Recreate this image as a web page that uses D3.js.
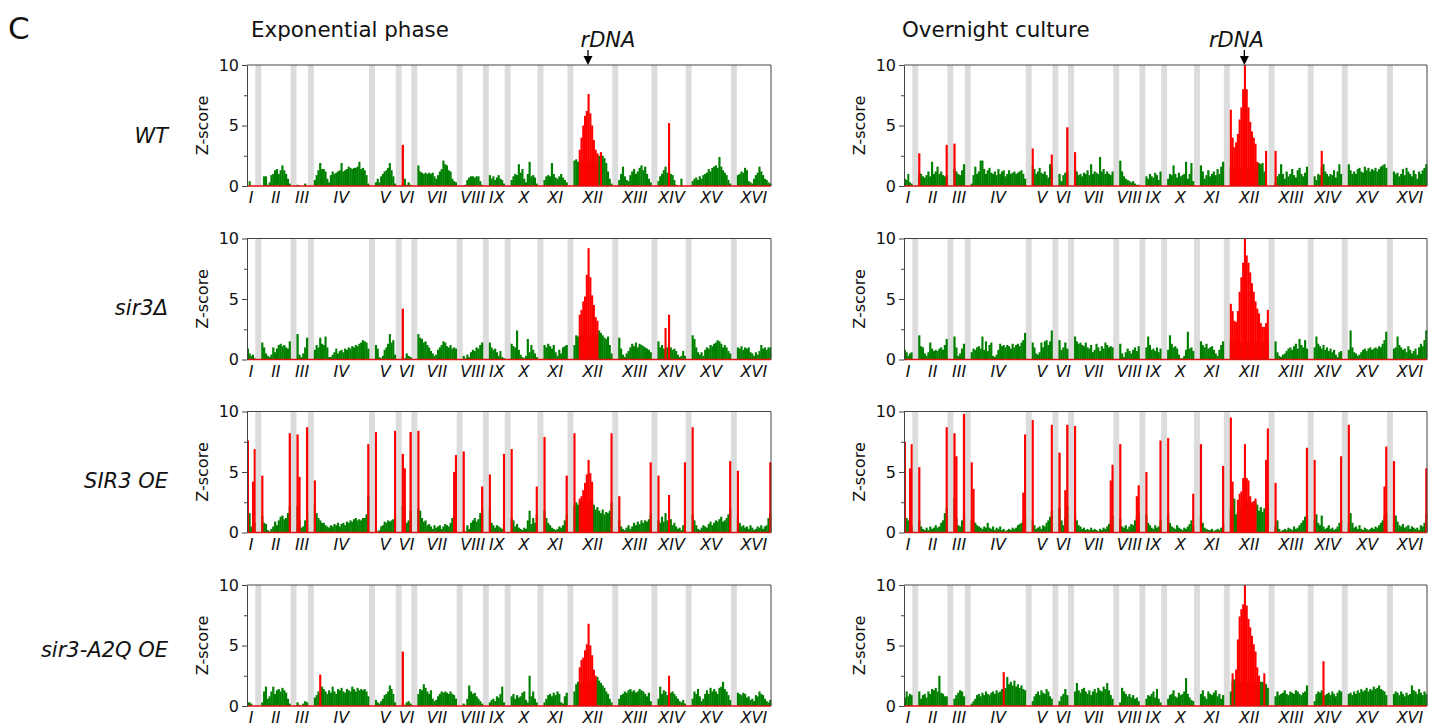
<!DOCTYPE html>
<html>
<head>
<meta charset="utf-8">
<script src="https://cdnjs.cloudflare.com/ajax/libs/d3/7.8.5/d3.min.js"></script>
<style>
  body { margin: 0; background: #fff; }
  text { font-family: "DejaVu Sans", sans-serif; fill: #111; }
</style>
</head>
<body>
<div id="svgContainer"></div>
<script>
// chromosomes (kb)
var chromNames = ["I","II","III","IV","V","VI","VII","VIII","IX","X","XI","XII","XIII","XIV","XV","XVI"];
var chromLengths = [230, 813, 317, 1532, 577, 270, 1091, 563, 440, 746, 667, 1078, 924, 784, 1091, 948];
var gapKb = 165;      // grey spacer between chromosomes
var rdnaKb = 405;     // rDNA position on chr XII

var yMajorTicks = [0, 5, 10];
var yMinorTicks = [2.5, 7.5];
var rowLabels = ["WT", "sir3\u0394", "SIR3 OE", "sir3-A2Q OE"];
var colTitles = ["Exponential phase", "Overnight culture"];

// z-score per bin, one array per chromosome (green = not enriched)
// red = enriched bins: [chromosome, first bin, values]
var wtExpGreen = [
  [0,0.4,0,0,0],
  [0,0.8,0.8,0.1,0.3,0.9,1.0,1.3,1.4,1.0,1.3,1.7,1.3,1.0,0.6,0.2],
  [0.1,0,0,0,0.2,0],
  [0.5,0.9,1.3,1.9,1.4,1.4,1.2,0.6,0.3,0.9,1.2,1.0,1.1,1.2,1.3,1.9,1.2,1.3,1.4,1.6,1.5,1.4,1.5,1.5,1.6,2.0,1.4,1.5,1.3,0.9,0.2],
  [0.3,0.6,0.3,0.8,1.0,1.2,1.3,1.5,1.9,1.3,0.8,0.2],
  [0.2,0.6,0.1,0.3,0.1],
  [1.7,1.2,1.1,1.0,1.1,1.0,1.1,1.0,1.1,0.8,0.6,0.9,1.2,1.4,2.1,1.8,1.7,1.3,1.2,0.6,0.4,0.3],
  [0,0.1,0.5,0.7,0.8,0.8,0.7,0.8,0.8,0.4,0.1],
  [0.9,0.6,0.8,0.5,0.7,0.9,0.6,0.5,0.2],
  [0.5,0.8,1.0,0.9,1.8,1.1,1.4,0.6,0.3,1.0,2.0,0.8,0.9,0.7,0.2],
  [0.5,0.8,0.9,0.8,1.9,1.0,0.7,0.6,0.8,1.0,0.7,0.5,0.3],
  [2.1,2.2,2.0,2.0,2.0,2.0,2.0,2.0,2.0,2.0,2.0,2.0,2.0,2.0,2.5,2.7,2.5,2.3,1.9,1.2,0.6,0.2],
  [0.5,1.0,1.6,0.8,0.5,0.4,0.9,1.2,1.4,1.0,1.2,1.5,1.7,1.3,1.6,1.0,0.6,0.3],
  [0.4,0.8,1.0,1.3,1.6,1.1,1.2,1.0,0.9,0.5,0.1,0,0,0.6,0,0],
  [0.4,0.6,0.7,0.5,0.8,0.6,0.9,1.0,1.1,1.4,1.2,1.5,1.6,1.7,1.5,2.4,1.6,1.3,1.1,0.9,0.5,0.2],
  [0.9,1.0,1.2,1.1,1.5,1.3,0.4,0.3,0.2,0.6,0.9,1.1,1.6,1.2,0.9,0.6,0.5,0.3,0.2]
];
var wtExpRed = [
  ["VI",0,[3.4]],
  ["XII",3,[3.0,4.0,5.0,5.8,6.2,7.6,6.0,5.0,3.8,3.0,2.7]],
  ["XII",15,[2.8]],
  ["XIV",6,[5.2]]
];

var wtOnGreen = [
  [0.6,0.5,1.0,0.3,0.2],
  [1.1,1.0,0.8,0.7,0.9,1.2,0.8,2.0,1.0,1.2,1.6,1.0,1.2,0.9,0.8,0.9],
  [1.4,1.2,1.0,0.9,1.3,1.8],
  [0.2,0.9,1.6,1.0,1.2,2.1,2.1,1.4,1.0,1.3,1.5,1.1,1.0,1.2,0.9,1.4,1.0,1.2,1.3,0.8,1.0,1.3,1.0,1.1,1.2,1.0,1.1,1.2,1.3,1.0,0.6],
  [1.7,1.4,1.0,1.2,1.5,1.1,1.0,1.2,0.9,0.7,1.8,1.5],
  [1.0,0.4,0.9,1.1,1.2],
  [1.3,1.2,0.9,1.0,0.8,1.1,1.0,1.3,0.9,1.8,1.0,1.2,1.1,1.0,2.4,1.2,1.4,1.0,1.2,1.0,0.9,1.2],
  [2.1,1.2,0.8,0.6,0.5,0.4,0.3,0.4,0.2,0.1,0.1],
  [0.8,0.6,1.0,0.8,0.7,1.1,0.9,0.5,1.2],
  [0.6,1.0,0.9,1.7,1.0,0.7,1.1,0.8,0.9,1.0,2.0,0.6,1.0,1.9,0.4],
  [1.7,1.2,0.6,0.9,1.3,0.8,1.0,1.2,0.9,1.4,1.0,1.6,2.0],
  [1.5,1.5,1.5,1.5,1.5,1.5,1.5,1.5,1.5,1.5,1.5,1.5,1.5,1.5,1.5,1.9,1.9,1.8,1.9,1.2,0.3,0],
  [0.3,0.8,1.0,1.8,1.0,0.6,1.2,0.8,1.0,1.4,0.9,0.7,1.3,1.5,1.0,0.8,1.1,1.6],
  [0.8,0.5,1.0,0.9,1.6,1.8,1.2,1.0,0.8,1.0,0.9,1.3,0.7,1.2,1.8,1.0],
  [1.8,1.3,1.0,1.2,1.0,1.4,1.5,1.2,1.1,1.6,1.3,1.5,1.2,1.4,1.3,1.5,1.2,1.4,1.6,1.7,1.8,1.5],
  [1.2,1.0,1.1,0.8,1.0,1.4,0.9,1.5,1.2,1.0,0.8,1.3,1.0,0.6,1.2,1.0,1.3,1.5,1.8]
];
var wtOnRed = [
  ["II",0,[2.7]], ["II",15,[3.4]], ["III",0,[3.5]], ["V",0,[3.1]], ["V",11,[2.6]],
  ["VI",4,[4.85]], ["VII",0,[2.8]],
  ["XII",0,[6.3,4.0,3.2,3.6,4.3,5.5,6.5,8.0,10,8.0,6.5,5.3,4.5,4.0,3.5,2.0]],
  ["XII",20,[2.9]], ["XIII",0,[2.9]], ["XIV",4,[2.9]]
];

var sir3ExpGreen = [
  [0.9,0.5,0.3,0.4,0.1],
  [1.4,1.0,0.5,0.3,0.2,0.4,1.0,0.6,0.9,1.2,1.3,1.1,1.2,1.0,0.9,1.5],
  [2.1,0.4,0.2,0.5,1.0,1.8],
  [0.8,1.2,1.0,1.8,1.3,1.2,1.9,1.0,0.2,0.2,0.4,0.6,0.9,0.5,0.7,0.8,0.6,0.9,0.8,1.0,0.9,1.1,1.0,1.2,1.1,1.3,1.4,1.6,1.5,1.4,0.9],
  [1.2,0.9,0.2,0.1,0.3,0.8,1.0,1.3,2.1,1.4,1.6,0.4],
  [0.3,0.1,0.5,0.3,0.2],
  [2.1,1.8,1.7,1.4,1.5,1.2,1.0,0.7,0.5,0.3,0.4,0.8,1.0,1.2,1.5,1.4,1.1,1.0,1.2,0.9,1.0,0.9],
  [0.3,0.1,0.4,0.2,0.6,0.8,0.7,1.0,0.9,1.2,1.4],
  [1.4,1.0,0.8,0.9,0.6,0.3,0.7,0.2,0.1],
  [1.3,1.1,1.0,2.4,0.8,0.4,0.2,0.1,0.3,1.7,0.6,1.2,0.8,0.5,0.2],
  [1.2,1.0,1.3,1.1,0.9,1.2,0.6,0.3,0.8,0.5,1.0,1.1,1.2],
  [1.2,2.0,1.9,2.0,2.0,2.0,2.0,2.0,2.0,2.0,2.0,2.0,2.0,2.0,2.4,2.2,2.0,1.8,1.7,1.9,1.2,0.5],
  [1.8,0.9,0.4,0.2,0.5,0.7,1.0,1.3,1.1,1.4,1.0,1.3,1.2,1.1,1.0,0.9,0.8,0.6],
  [1.5,1.0,1.2,0.9,0.8,1.0,0.9,1.0,0.8,0.9,0.7,0.4,0.2,0.3,0.7,0.3],
  [2.0,1.7,1.0,0.6,0.4,0.6,0.3,0.8,1.0,0.9,1.2,1.1,1.3,1.4,1.6,1.5,1.3,1.0,1.2,1.0,0.7,0.5],
  [1.0,0.9,1.1,0.8,1.0,0.9,1.0,0.6,0.5,0.3,0.6,0.4,0.7,1.2,0.9,1.0,0.8,1.0,1.0]
];
var sir3ExpRed = [
  ["VI",0,[4.2]],
  ["XII",3,[3.7,4.1,4.8,5.2,7.0,9.2,6.8,5.3,4.5,3.5,3.2]],
  ["XIV",4,[2.6]], ["XIV",6,[3.7]]
];

var sir3OnGreen = [
  [0.8,0.6,0.3,0.5,0.6],
  [2.0,1.1,1.0,0.5,0.3,0.6,1.4,0.9,0.7,0.8,0.7,0.9,1.0,0.8,1.2,1.7],
  [1.9,1.0,0.3,0.5,0.9,1.3],
  [0.6,0.9,0.8,1.0,1.1,0.9,1.9,0.8,1.5,0.7,1.2,1.4,0.3,0.2,0.4,0.8,1.3,1.1,1.2,1.0,1.2,1.1,0.9,1.3,1.0,1.2,1.3,1.1,1.4,1.6,2.2],
  [1.4,1.0,0.5,0.4,0.6,1.4,1.0,1.5,1.6,1.2,1.5,2.4],
  [1.6,0.8,1.0,1.4,0.9],
  [1.9,1.5,1.3,1.4,1.2,1.1,1.4,1.0,0.9,1.2,0.6,0.8,1.3,1.0,0.7,1.1,0.9,1.4,1.2,1.0,1.1,1.0],
  [1.3,0.5,0.2,0.6,0.9,0.7,0.5,0.8,1.0,0.7,1.1],
  [1.0,1.9,1.2,0.8,0.9,0.7,1.0,0.6,0.9],
  [0.8,2.0,1.3,1.0,1.1,0.9,0.4,0.1,0.1,0.3,0.8,2.3,0.9,1.0,0.7],
  [1.5,1.2,1.0,1.3,0.9,1.0,1.1,0.8,0.5,0.3,0.8,1.2,1.5],
  [1.6,1.5,1.4,1.5,1.6,1.5,1.4,1.5,1.6,1.5,1.4,1.5,1.6,1.5,1.4,1.5,1.6,1.5,1.4,1.5,1.6,1.5],
  [1.5,0.6,0.3,0.2,0.4,0.5,0.7,0.9,1.0,0.8,1.1,1.3,0.9,1.7,1.2,1.0,1.6,0.9],
  [1.0,1.9,1.3,1.1,0.9,1.2,0.8,1.0,0.7,0.9,0.6,0.8,0.4,0.2,0.6,0.7],
  [0.8,2.4,1.0,0.6,0.5,0.3,0.4,0.6,0.8,0.9,0.7,0.9,1.0,0.8,0.9,1.0,0.9,1.1,1.0,1.3,1.6,2.3],
  [0.9,1.0,1.9,1.2,1.0,0.8,0.9,0.6,1.1,0.8,0.5,0.7,0.9,0.4,1.0,1.3,1.1,1.6,2.4]
];
var sir3OnRed = [
  ["XII",0,[4.6,4.0,3.2,3.1,4.0,5.6,6.8,8.0,10,8.6,8.0,7.2,6.3,5.6,4.8,4.2,3.8,3.0,2.7,2.7,3.0,4.1]]
];

var oeExpGreen = [
  [1.5,1.6,0.5,0.3,0.8],
  [1.4,0.8,0.7,0.2,0.1,0.3,0.5,0.9,0.6,1.0,1.3,1.4,1.1,1.2,1.6,2.2],
  [2.2,1.0,0.4,0.5,1.0,1.6],
  [2.3,1.6,1.2,1.0,0.8,0.8,0.6,0.5,0.4,0.6,0.5,0.7,0.6,0.8,0.5,0.7,0.8,0.6,0.9,0.8,1.0,0.9,1.1,1.2,1.0,1.1,1.0,1.2,1.2,1.5,3.0],
  [0.3,0.1,0.2,0.5,0.6,0.9,0.8,1.0,0.9,1.0,1.1,1.5],
  [2.2,1.2,0.8,1.0,1.8],
  [2.0,1.8,1.2,0.9,1.0,0.6,0.7,0.5,0.3,0.6,0.4,0.5,0.6,0.3,0.5,0.7,0.6,0.5,0.8,1.2,1.5,1.6],
  [0.2,0.1,0.6,0.3,0.8,1.0,1.2,0.9,1.1,1.6,2.0],
  [2.0,0.8,0.6,0.4,0.6,0.5,0.4,0.3,0.8],
  [1.2,1.0,0.5,0.7,0.4,0.3,0.2,0.4,0.3,1.0,1.8,0.7,1.2,0.8,1.5],
  [1.8,1.2,0.8,0.6,0.4,0.3,0.2,0.3,0.5,0.4,0.6,1.0,1.5],
  [2.2,2.5,2.3,2.5,2.4,2.6,2.8,2.5,2.6,2.8,2.7,2.3,1.9,2.1,1.8,1.6,1.9,1.5,1.7,1.6,1.8,2.5],
  [1.0,0.5,0.3,0.2,0.4,0.6,0.3,0.5,0.8,0.6,0.9,0.7,1.0,0.8,1.0,0.9,1.1,1.5],
  [1.0,0.8,1.3,0.9,1.6,1.0,0.8,1.1,0.6,0.8,0.5,0.3,0.4,0.2,0.6,1.2],
  [1.5,1.0,0.6,0.3,0.2,0.4,0.6,0.5,0.4,0.7,0.9,0.6,0.8,1.0,0.9,1.1,1.3,0.9,1.0,1.2,1.5,2.0],
  [1.2,0.8,0.5,0.6,0.4,0.5,0.3,0.6,0.4,0.2,0.3,0.5,0.4,0.6,0.3,0.5,0.6,1.2,1.6]
];
var oeExpRed = [
  ["I",0,[7.6]], ["I",3,[4.2,6.9]], ["II",0,[4.7]], ["II",15,[8.2]],
  ["III",0,[8.1,4.6]], ["III",5,[8.7]], ["IV",0,[4.3]], ["IV",30,[7.3]],
  ["V",0,[8.3]], ["V",11,[8.4]], ["VI",0,[6.5,5.3]], ["VI",4,[8.3]],
  ["VII",0,[8.4]], ["VII",20,[5.0,6.4]], ["VIII",0,[6.7]], ["VIII",10,[3.8]],
  ["IX",0,[4.8]], ["IX",8,[6.5]], ["X",0,[6.9]], ["X",14,[3.8]],
  ["XI",0,[7.9]], ["XI",12,[4.7]], ["XII",0,[8.2]],
  ["XII",3,[2.8,3.0,3.5,4.1,4.8,6.0,4.9,4.2]], ["XII",21,[8.2]],
  ["XIII",0,[3.0]], ["XIII",17,[5.8]], ["XIV",0,[4.7]], ["XIV",6,[3.1]], ["XIV",15,[5.8]],
  ["XV",0,[8.7]], ["XV",21,[5.9]], ["XVI",0,[5.1]], ["XVI",18,[5.8]]
];

var oeOnGreen = [
  [1.5,1.2,1.0,1.2,0.6],
  [1.0,0.5,0.3,0.2,0.4,0.2,0.5,0.3,0.4,0.6,0.4,0.5,0.8,1.0,1.6,2.0],
  [2.8,1.2,0.6,0.5,1.0,1.6],
  [1.0,0.9,0.8,0.6,0.5,0.4,0.3,0.5,0.4,0.8,0.4,0.3,0.5,0.2,0.4,0.3,0.5,0.2,0.3,0.1,0.2,0.3,0.2,0.4,0.3,0.4,0.6,0.7,0.8,1.0,1.4],
  [1.0,0.6,0.3,0.4,0.5,0.3,0.6,0.5,0.8,1.0,1.3,1.8],
  [2.0,1.0,0.6,1.2,2.2],
  [1.5,1.0,0.6,0.5,0.3,0.4,0.2,0.3,0.2,0.4,0.2,0.3,0.2,0.1,0.3,0.2,0.4,0.3,0.5,0.7,1.0,1.4],
  [1.2,0.5,0.4,0.6,0.3,0.5,0.7,0.6,1.0,1.3,1.6],
  [1.5,0.8,0.6,0.4,0.3,0.6,0.4,0.5,1.0],
  [1.5,0.8,0.5,0.4,0.3,0.6,0.4,0.3,0.2,0.4,0.3,0.5,0.7,1.0,0.5],
  [1.4,0.8,0.4,0.3,0.2,0.2,0.3,0.1,0.2,0.3,0.2,0.4,0.8],
  [2.0,2.5,2.8,1.5,1.7,2.0,2.2,2.4,2.3,2.5,2.6,2.4,2.2,2.0,2.5,2.3,1.8,2.1,1.7,2.0,1.8,2.5],
  [0.5,1.0,0.3,0.1,0.2,0.3,0.2,0.4,0.3,0.2,0.5,0.3,0.4,0.6,0.8,1.0,1.3,1.5],
  [1.0,1.5,0.8,0.6,1.4,0.5,0.3,0.4,0.6,0.3,0.4,0.2,0.3,0.5,0.8,1.0],
  [0.8,1.6,0.8,0.4,0.5,0.3,0.6,0.3,0.2,0.4,0.3,0.2,0.3,0.4,0.3,0.5,0.4,0.6,0.8,1.0,1.4,1.6],
  [0.8,1.4,0.9,0.6,0.5,0.7,0.4,0.5,0.6,0.3,0.5,0.4,0.3,0.4,0.2,0.6,0.5,0.8,1.5]
];
var oeOnRed = [
  ["I",0,[7.5]], ["I",3,[5.3,7.3]], ["II",0,[5.4]], ["II",15,[8.7]],
  ["III",0,[8.2,6.3]], ["III",5,[9.8]], ["IV",0,[5.8,3.6]], ["IV",29,[3.3,8.1]],
  ["V",0,[9.3]], ["V",11,[8.9]], ["VI",0,[6.6]], ["VI",3,[3.5,8.9]],
  ["VII",0,[8.8]], ["VII",20,[4.3,5.6]], ["VIII",0,[7.3]], ["VIII",9,[3.0,3.9]],
  ["IX",0,[5.0]], ["IX",8,[7.6]], ["X",0,[7.8]], ["X",14,[3.2]],
  ["XI",0,[7.3]], ["XI",12,[5.5]], ["XII",0,[9.5,4.2]],
  ["XII",4,[2.7,3.2,3.4,4.5,7.3,4.5,4.3,3.0,2.5,2.6,2.8]], ["XII",20,[6.0,8.6]],
  ["XIII",0,[4.1]], ["XIII",17,[7.0]], ["XIV",0,[6.0]], ["XIV",15,[6.3]],
  ["XV",0,[8.9]], ["XV",20,[3.8,7.1]], ["XVI",0,[5.9]], ["XVI",18,[5.3]]
];

var a2qExpGreen = [
  [0.3,0.3,0.2,0,0],
  [0.3,1.2,1.6,0.6,0.8,1.2,1.6,1.0,1.3,1.4,1.2,1.5,1.3,1.1,0.6,0.2],
  [0.3,0.1,0,0.2,0.4,0.3],
  [0.7,0.9,1.2,1.0,1.6,1.4,1.2,1.0,1.3,1.1,1.6,1.2,1.0,1.4,1.3,1.5,1.2,1.1,1.4,1.3,1.2,1.6,1.4,1.2,1.5,1.3,1.4,1.3,1.4,1.2,0.8],
  [0.5,0.3,0.2,0.4,0.6,0.9,1.0,1.2,1.7,1.4,1.0,0.3],
  [0.2,0.1,0.3,0.4,0.2],
  [1.0,1.4,1.3,1.8,1.5,1.2,1.0,1.3,0.6,0.4,0.5,0.8,1.0,1.2,1.1,1.2,1.1,1.0,1.2,1.0,0.9,0.6],
  [0.2,0.1,0.6,1.7,1.2,1.0,1.1,0.8,0.6,0.4,0.2],
  [0.3,0.5,0.6,0.4,0.8,0.7,1.0,1.6,0.3],
  [0.8,1.0,0.6,0.9,0.7,0.8,1.1,1.2,0.5,0.3,2.5,0.8,1.2,0.6,0.3],
  [0.3,0.6,0.9,1.0,0.8,1.1,0.9,1.2,1.0,0.3,0.2,0.8,1.1],
  [1.2,1.8,2.0,2.0,2.0,2.0,2.0,2.0,2.0,2.0,2.0,2.0,2.2,2.4,2.1,1.9,1.7,1.5,1.2,1.0,0.6,0.3],
  [0.6,0.9,1.0,1.2,1.1,1.3,1.4,1.2,1.3,1.1,1.2,1.4,1.3,1.2,1.0,0.8,1.1,0.4],
  [0.6,1.6,1.0,1.3,1.2,0.9,1.0,1.1,1.2,1.0,0.8,0.6,0.4,0.3,0.5,0.2],
  [0.6,1.2,1.0,1.4,0.8,0.4,0.6,1.0,1.3,1.0,1.5,1.2,1.4,1.2,1.0,1.5,1.6,2.0,1.4,1.2,0.9,0.5],
  [1.1,1.0,0.9,1.1,1.0,0.7,0.8,0.5,0.6,0.4,0.9,0.8,1.2,1.0,0.9,0.6,0.4,0.3,0.5]
];
var a2qExpRed = [
  ["IV",3,[2.6]], ["VI",0,[4.5]],
  ["XII",3,[3.2,3.8,4.0,4.6,5.1,6.8,5.0,4.2,3.0,2.5]],
  ["XIV",6,[2.5]]
];

var a2qOnGreen = [
  [0.7,1.2,0.8,1.0,0.9],
  [1.2,0.6,0.9,1.0,0.7,1.2,1.0,1.4,1.3,1.5,1.2,2.5,1.1,1.0,0.8,0.8],
  [0.6,0.9,1.1,1.3,1.2,0.8],
  [0.2,0.4,0.6,0.9,1.0,0.8,1.1,0.9,1.2,1.0,0.9,1.1,1.2,1.0,1.3,1.1,1.2,1.4,1.3,1.5,2.4,1.8,2.0,1.7,2.1,1.6,1.8,1.5,1.7,1.4,1.3],
  [0.4,0.8,1.0,1.2,0.9,1.3,1.1,1.0,1.4,1.2,0.8,0.6],
  [0.4,0.8,1.0,1.4,0.9],
  [1.2,1.9,1.3,1.1,1.4,1.5,1.2,1.0,1.3,0.9,1.2,1.4,1.1,1.5,1.3,1.2,1.6,1.4,1.9,1.3,0.9,0.6],
  [0.3,1.5,1.2,1.0,0.8,1.0,0.7,0.9,0.6,0.7,0.4],
  [0.6,0.9,0.8,1.0,1.2,0.7,1.4,0.6,0.3],
  [0.6,0.9,1.0,1.3,0.8,0.7,1.1,0.9,1.0,1.2,2.3,1.0,0.7,0.5,0.4],
  [1.0,1.3,0.8,0.6,1.2,1.0,0.9,1.1,1.3,0.8,1.0,0.6,0.9],
  [1.2,2.0,2.2,2.0,2.0,2.0,2.0,2.0,2.0,2.0,2.0,2.0,2.0,2.0,2.0,2.0,2.0,2.0,2.0,1.9,1.8,1.5],
  [0.8,1.2,0.9,1.0,1.1,1.3,1.0,0.9,1.2,1.1,1.0,1.3,1.2,1.0,0.9,1.1,1.2,1.7],
  [0.4,1.0,1.2,1.1,1.3,0.8,0.9,1.0,1.1,0.9,1.2,1.0,0.8,1.1,1.3,1.2],
  [1.0,1.1,0.9,1.2,1.0,1.3,1.1,1.4,1.2,1.3,1.5,1.2,1.4,1.3,1.6,1.4,1.5,1.7,1.4,1.3,1.2,0.9],
  [1.0,1.2,1.1,0.9,1.2,1.0,0.8,1.1,0.9,1.0,1.7,1.3,1.2,1.0,1.4,1.1,0.9,1.2,1.0]
];
var a2qOnRed = [
  ["IV",18,[2.8]], ["XII",1,[2.7]],
  ["XII",3,[3.0,5.5,7.4,8.0,8.4,10,8.3,7.2,6.5,5.8,5.1,4.5,3.2,2.5]],
  ["XII",19,[2.7]], ["XIV",5,[3.7]]
];

// layout
var colX = [247, 904], colW = [524, 523];
var rowY = [65, 238.5, 411.5, 585];
var panelH = 121;
var green = "#008000", red = "#ff0000";

var panels = [
  {row: 0, col: 0, green: wtExpGreen, red: wtExpRed},
  {row: 0, col: 1, green: wtOnGreen, red: wtOnRed},
  {row: 1, col: 0, green: sir3ExpGreen, red: sir3ExpRed},
  {row: 1, col: 1, green: sir3OnGreen, red: sir3OnRed},
  {row: 2, col: 0, green: oeExpGreen, red: oeExpRed},
  {row: 2, col: 1, green: oeOnGreen, red: oeOnRed},
  {row: 3, col: 0, green: a2qExpGreen, red: a2qExpRed},
  {row: 3, col: 1, green: a2qOnGreen, red: a2qOnRed}
];

// genome coordinates with spacers
var chromStart = [];
var acc = 0;
chromLengths.forEach(function(len, i) {
  chromStart.push(acc);
  acc += len + (i < chromLengths.length - 1 ? gapKb : 0);
});
var genomeSpan = acc;

var svg = d3.select("#svgContainer")
  .append("svg")
  .attr("width", 1431)
  .attr("height", 726);

function drawPanel(p) {
  var w = colW[p.col];
  var g = svg.append("g")
    .attr("transform", "translate(" + colX[p.col] + "," + rowY[p.row] + ")");

  var x = d3.scaleLinear().domain([0, genomeSpan]).range([0, w]);
  var y = d3.scaleLinear().domain([0, 10]).range([panelH, 0]).clamp(true);

  // grey spacers
  g.selectAll(".gap")
    .data(chromLengths.slice(0, -1))
    .enter().append("rect")
    .attr("x", function(len, i) { return x(chromStart[i] + len); })
    .attr("width", function(len, i) { return x(chromStart[i + 1]) - x(chromStart[i] + len); })
    .attr("y", 0)
    .attr("height", panelH)
    .attr("fill", "#dcdcdc");

  // green bins
  var bins = [];
  p.green.forEach(function(vals, ci) {
    var bw = chromLengths[ci] / vals.length;
    vals.forEach(function(v, b) {
      bins.push({kb: chromStart[ci] + b * bw, bw: bw, v: v});
    });
  });
  g.selectAll(".g").data(bins.filter(function(d) { return d.v > 0; }))
    .enter().append("rect")
    .attr("x", function(d) { return x(d.kb); })
    .attr("width", function(d) { return x(d.bw) - x(0) + 0.35; })
    .attr("y", function(d) { return y(d.v); })
    .attr("height", function(d) { return panelH - y(d.v); })
    .attr("fill", green);

  // red bins
  var reds = [];
  p.red.forEach(function(r) {
    var ci = chromNames.indexOf(r[0]);
    var bw = chromLengths[ci] / p.green[ci].length;
    r[2].forEach(function(v, k) {
      reds.push({kb: chromStart[ci] + (r[1] + k) * bw, bw: bw, v: v});
    });
  });
  g.selectAll(".r").data(reds)
    .enter().append("rect")
    .attr("x", function(d) { return x(d.kb); })
    .attr("width", function(d) { return x(d.bw) - x(0) + 0.35; })
    .attr("y", function(d) { return y(d.v); })
    .attr("height", function(d) { return panelH - y(d.v); })
    .attr("fill", red);

  // red baseline
  g.append("line")
    .attr("x1", 0).attr("x2", w)
    .attr("y1", panelH).attr("y2", panelH)
    .style("stroke", "#e01010")
    .style("stroke-width", 1.4);

  // top/right frame
  g.append("path")
    .attr("d", "M0,0H" + w + "V" + panelH)
    .attr("fill", "none")
    .style("stroke", "#444")
    .style("stroke-width", 1);

  // y axis
  var ax = g.append("g")
    .call(d3.axisLeft(y).tickValues(yMajorTicks).tickSize(5).tickSizeOuter(0).tickPadding(3));
  ax.selectAll("text").style("font-size", "16px").style("font-family", "DejaVu Sans");
  ax.selectAll("line, path").style("stroke", "#444");
  var axm = g.append("g")
    .call(d3.axisLeft(y).tickValues(yMinorTicks).tickSize(3).tickSizeOuter(0).tickFormat(""));
  axm.selectAll("line").style("stroke", "#444");
  axm.select("path").remove();

  g.append("text")
    .attr("transform", "translate(-39," + (panelH / 2) + ") rotate(-90)")
    .attr("text-anchor", "middle")
    .style("font-size", "16px")
    .text("Z-score");

  // chromosome labels
  g.selectAll(".chr").data(chromNames)
    .enter().append("text")
    .attr("x", function(n, i) { return x(chromStart[i] + chromLengths[i] / 2); })
    .attr("y", panelH + 17)
    .attr("text-anchor", "middle")
    .style("font-size", "16px")
    .style("font-style", "italic")
    .text(function(n) { return n; });

  if (p.row === 0) {
    var xa = x(chromStart[11] + rdnaKb);
    var tx = p.col === 0 ? xa + 20 : xa - 8;
    g.append("line")
      .attr("x1", xa).attr("x2", xa)
      .attr("y1", -15).attr("y2", -7)
      .style("stroke", "#000").style("stroke-width", 1.3);
    g.append("path")
      .attr("d", "M" + (xa - 4.5) + ",-9L" + (xa + 4.5) + ",-9L" + xa + ",0Z")
      .attr("fill", "#000");
    g.append("text")
      .attr("x", tx).attr("y", -18)
      .attr("text-anchor", "middle")
      .style("font-size", "21px")
      .style("font-style", "italic")
      .text("rDNA");
  }
}

panels.forEach(drawPanel);

// row labels
var rowBase = [143, 315, 488, 657];
svg.selectAll(".rowlab").data(rowLabels)
  .enter().append("text")
  .attr("x", 168)
  .attr("y", function(d, i) { return rowBase[i]; })
  .attr("text-anchor", "end")
  .style("font-size", "21px")
  .style("font-style", "italic")
  .text(function(d) { return d; });

// column titles
svg.selectAll(".coltitle").data(colTitles)
  .enter().append("text")
  .attr("x", function(d, i) { return [251, 902][i]; })
  .attr("y", 37)
  .style("font-size", "21.4px")
  .text(function(d) { return d; });

svg.append("text")
  .attr("x", 8).attr("y", 39)
  .style("font-size", "31px")
  .text("C");
</script>
</body>
</html>
